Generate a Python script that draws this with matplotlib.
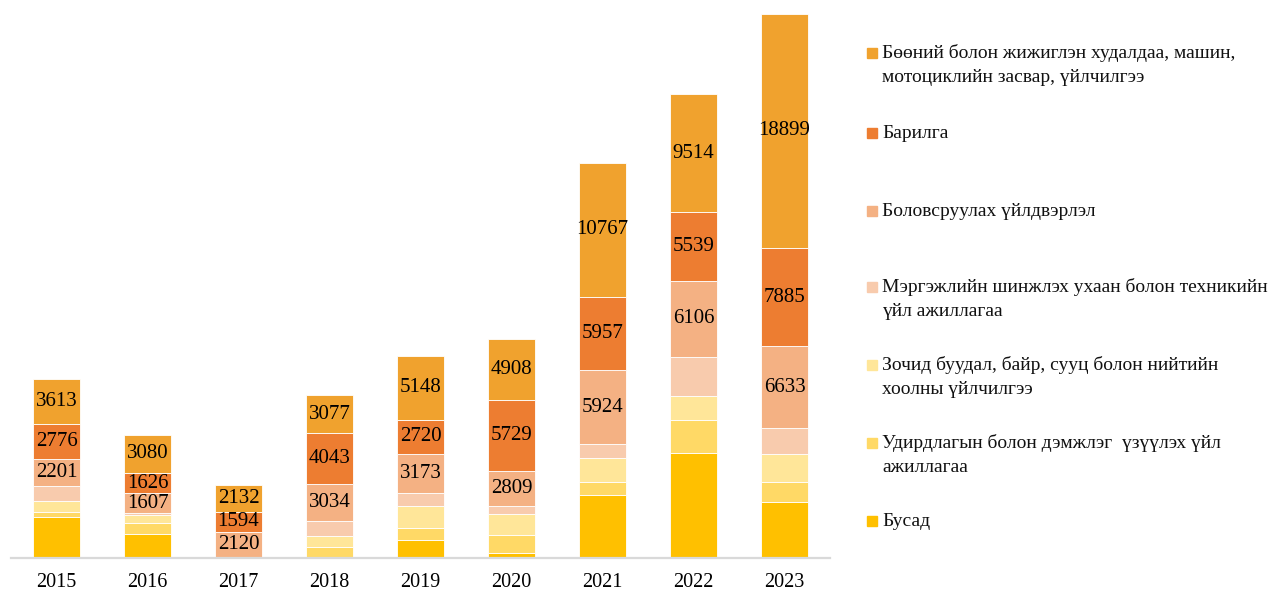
import numpy as np
import matplotlib.pyplot as plt
from matplotlib.patches import Rectangle

plt.rcParams['font.family'] = ['Liberation Serif', 'DejaVu Serif']

# Data -------------------------------------------------------------------------

years = ['2015', '2016', '2017', '2018', '2019', '2020', '2021', '2022', '2023']

# stacked from bottom to top
busad      = [3300, 1930, 0, 0, 1450, 400, 5080, 8470, 4500]
udirdlaga  = [400, 900, 0, 890, 970, 1450, 1050, 2660, 1600]
zochid     = [890, 620, 0, 870, 1770, 1700, 1935, 1935, 2250]
mergejil   = [1210, 160, 0, 1210, 1050, 650, 1130, 3150, 2100]
bolovsruul = [2201, 1607, 2120, 3034, 3173, 2809, 5924, 6106, 6633]
barilga    = [2776, 1626, 1594, 4043, 2720, 5729, 5957, 5539, 7885]
buunii     = [3613, 3080, 2132, 3077, 5148, 4908, 10767, 9514, 18899]

series = [busad, udirdlaga, zochid, mergejil, bolovsruul, barilga, buunii]
names = ['Бусад',
         'Удирдлагын болон дэмжлэг  үзүүлэх үйл\nажиллагаа',
         'Зочид буудал, байр, сууц болон нийтийн\nхоолны үйлчилгээ',
         'Мэргэжлийн шинжлэх ухаан болон техникийн\nүйл ажиллагаа',
         'Боловсруулах үйлдвэрлэл',
         'Барилга',
         'Бөөний болон жижиглэн худалдаа, машин,\nмотоциклийн засвар, үйлчилгээ']
colors = ['#FFC000', '#FFD966', '#FFE699', '#F8CBAD', '#F4B183', '#ED7D31', '#F0A22E']
labelled = [False, False, False, False, True, True, True]

# Plot -------------------------------------------------------------------------

W, H = 1278, 590
fig = plt.figure(figsize=(W / 100, H / 100), dpi=100)
ax = fig.add_axes([11 / W, 1 - 558 / H, (830 - 11) / W, (558 - 10) / H])

x = np.arange(len(years))
bottom = np.zeros(len(years))
for vals, name, col, lab in zip(series, names, colors, labelled):
    vals = np.array(vals, dtype=float)
    ax.bar(x, vals, 0.52, bottom=bottom, color=col,
           edgecolor='white', linewidth=0.6)
    if lab:
        for xi, b, v in zip(x, bottom, vals):
            ax.text(xi, b + v / 2, f'{int(v)}', ha='center', va='center',
                    fontsize=15, color='black')
    bottom += vals

ax.set_xlim(-0.5, len(years) - 0.5)
ax.set_ylim(0, 548 * 80.6)
ax.set_xticks(x)
ax.set_xticklabels(years, fontsize=14.5)
ax.tick_params(axis='x', length=0, pad=11)
ax.set_yticks([])
for side in ['top', 'right', 'left']:
    ax.spines[side].set_visible(False)
ax.spines['bottom'].set_color('#D9D9D9')
ax.spines['bottom'].set_linewidth(1.6)

# legend, top entry first
leg_y = [53, 133, 211, 287, 365, 443, 521]
for i, (name, col) in enumerate(zip(names[::-1], colors[::-1])):
    y0 = leg_y[i]
    fig.patches.append(Rectangle((867 / W, 1 - (y0 + 5) / H), 10 / W, 10 / H,
                                 transform=fig.transFigure, color=col))
    for j, line in enumerate(name.split('\n')):
        fig.text(882 / W, 1 - (y0 + 25 * j) / H, line, ha='left', va='center',
                 fontsize=14, color='#111111')

fig.savefig('out.png', dpi=100)
